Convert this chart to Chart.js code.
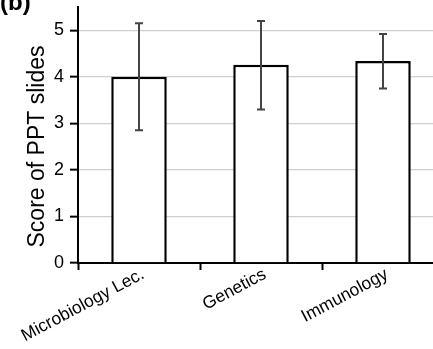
<!DOCTYPE html>
<html>
<head>
<meta charset="utf-8">
<script src="https://cdn.jsdelivr.net/npm/chart.js@4/dist/chart.umd.min.js"></script>
<style>
  html, body { margin: 0; padding: 0; background: #fff; overflow: hidden; }
  #wrap { position: relative; width: 433px; height: 349px; overflow: hidden; }
  #box { position: absolute; left: 0; top: 0; width: 444px; height: 349px; }
  #panel { position: absolute; left: 0px; top: -12px; line-height: 24px; font: bold 24px "Liberation Sans", Arial, sans-serif; color: #000; }
</style>
</head>
<body>
<div id="wrap">
  <div id="box"><canvas id="myCanvas"></canvas></div>
  <div id="panel">(b)</div>
</div>
<script>
const categories = ["Microbiology Lec.", "Genetics", "Immunology"]
const scores = [4.0, 4.26, 4.34]
const errLow = [2.85, 3.3, 3.75]
const errHigh = [5.15, 5.2, 4.92]
const yTicks = [0, 1, 2, 3, 4, 5]
const yTitle = "Score of PPT slides"

const FONT = "'Liberation Sans', Arial, sans-serif"

const errorBars = {
  id: "errorBars",
  afterDatasetsDraw(chart) {
    const ctx = chart.ctx
    const y = chart.scales.y
    const meta = chart.getDatasetMeta(0)
    ctx.save()
    ctx.strokeStyle = "#444"
    ctx.lineWidth = 2
    meta.data.forEach((bar, i) => {
      const x = bar.x
      const top = y.getPixelForValue(errHigh[i])
      const bot = y.getPixelForValue(errLow[i])
      ctx.beginPath()
      ctx.moveTo(x, top)
      ctx.lineTo(x, bot)
      ctx.moveTo(x - 4, top)
      ctx.lineTo(x + 4, top)
      ctx.moveTo(x - 4, bot)
      ctx.lineTo(x + 4, bot)
      ctx.stroke()
    })
    ctx.restore()
  },
}

// y title sits a bit below the middle of the axis in the original, so draw it by hand
const axisTitle = {
  id: "axisTitle",
  afterDraw(chart) {
    const ctx = chart.ctx
    ctx.save()
    ctx.translate(44, 146.5)
    ctx.rotate(-Math.PI / 2)
    ctx.font = "23px " + FONT
    ctx.fillStyle = "#000"
    ctx.textAlign = "center"
    ctx.textBaseline = "alphabetic"
    ctx.fillText(yTitle, 0, 0)
    ctx.restore()
  },
}

const ctx = document.getElementById("myCanvas").getContext("2d")
new Chart(ctx, {
  type: "bar",
  data: {
    labels: categories,
    datasets: [
      {
        data: scores,
        backgroundColor: "#fff",
        borderColor: "#000",
        borderWidth: 2.5,
        categoryPercentage: 1,
        barPercentage: 0.455,
      },
    ],
  },
  options: {
    responsive: true,
    maintainAspectRatio: false,
    animation: false,
    layout: { padding: { top: 7, right: 0, left: 0, bottom: 0 } },
    plugins: { legend: { display: false }, tooltip: { enabled: false } },
    scales: {
      x: {
        offset: true,
        grid: {
          offset: true,
          drawOnChartArea: false,
          drawTicks: true,
          tickLength: 7,
          tickColor: "#000",
          tickWidth: 2,
        },
        border: { color: "#000", width: 2 },
        ticks: {
          color: "#000",
          font: { family: FONT, size: 17.5 },
          minRotation: 28,
          maxRotation: 28,
          padding: -6,
          labelOffset: 4,
        },
        afterFit(scale) {
          scale.height = 86
          scale.paddingLeft = 0
          scale.paddingRight = 0
        },
      },
      y: {
        min: 0,
        max: 5.5,
        afterBuildTicks(scale) {
          scale.ticks = yTicks.map((v) => ({ value: v }))
        },
        grid: {
          color: (c) => (c.tick && c.tick.value === 0 ? "rgba(0,0,0,0)" : "#cfcfcf"),
          lineWidth: 1.3,
          tickColor: "#000",
          tickWidth: 2,
          tickLength: 8,
        },
        border: { color: "#000", width: 2 },
        ticks: {
          color: "#000",
          font: { family: FONT, size: 18 },
          padding: 6,
        },
        afterFit(scale) {
          scale.width = 78
          scale.paddingTop = 0
          scale.paddingBottom = 0
        },
      },
    },
  },
  plugins: [errorBars, axisTitle],
})
</script>
</body>
</html>
